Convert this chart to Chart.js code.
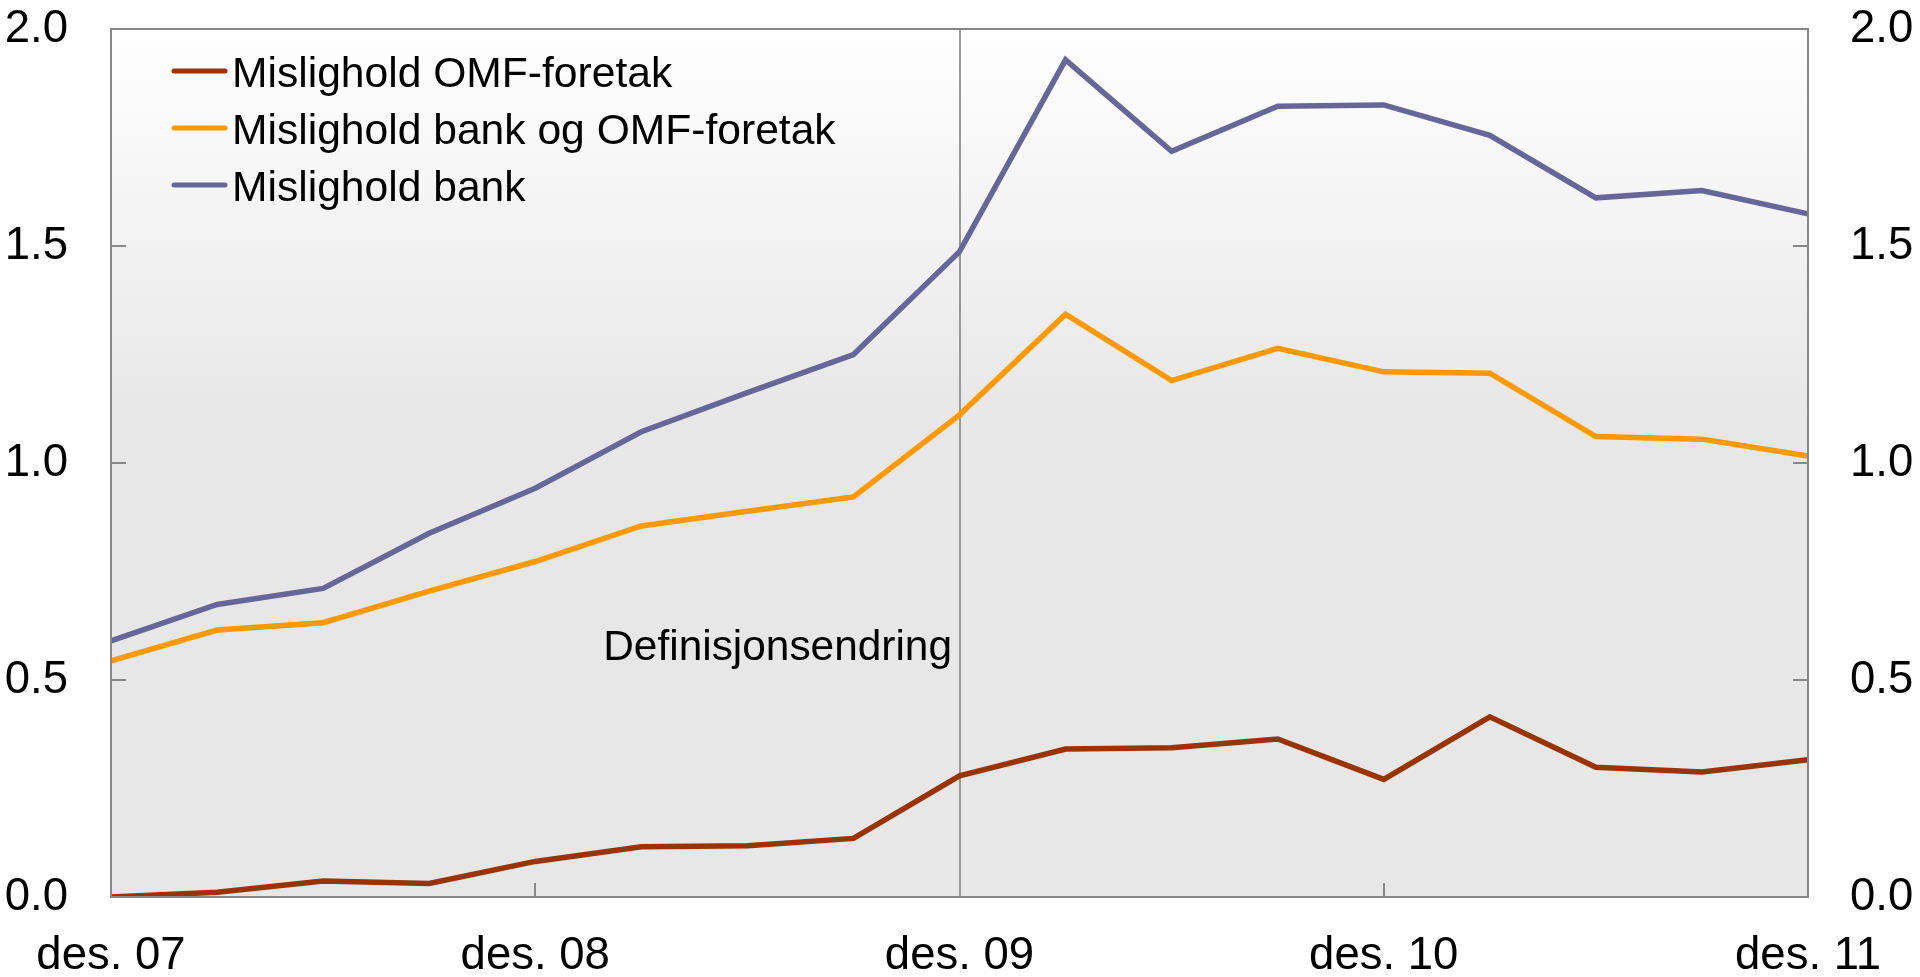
<!DOCTYPE html>
<html>
<head>
<meta charset="utf-8">
<style>
  html, body { margin: 0; padding: 0; background: #ffffff; }
  #wrap { width: 1920px; height: 977px; position: relative; }
</style>
<script src="https://cdn.jsdelivr.net/npm/chart.js@4.4.1/dist/chart.umd.min.js"></script>
</head>
<body>
<div id="wrap"><canvas id="c" width="1920" height="977"></canvas></div>
<script>
// Quarterly observations, des. 07 to des. 11
const categories = [
  'des. 07','mar. 08','jun. 08','sep. 08',
  'des. 08','mar. 09','jun. 09','sep. 09',
  'des. 09','mar. 10','jun. 10','sep. 10',
  'des. 10','mar. 11','jun. 11','sep. 11',
  'des. 11'
];
const shownTickLabels = ['des. 07','des. 08','des. 09','des. 10','des. 11'];
const yTicks = [0, 0.5, 1.0, 1.5, 2.0];

const misligholdOMF = [0.00, 0.011, 0.037, 0.031, 0.082, 0.116, 0.118, 0.135, 0.279, 0.341, 0.344, 0.364, 0.271, 0.415, 0.299, 0.288, 0.316];
const misligholdBankOgOMF = [0.544, 0.615, 0.632, 0.705, 0.773, 0.855, 0.889, 0.922, 1.111, 1.343, 1.190, 1.264, 1.210, 1.207, 1.061, 1.055, 1.016];
const misligholdBank = [0.590, 0.674, 0.711, 0.838, 0.942, 1.072, 1.162, 1.250, 1.487, 1.929, 1.718, 1.822, 1.825, 1.755, 1.611, 1.628, 1.574];

const seriesNames = ['Mislighold OMF-foretak', 'Mislighold bank og OMF-foretak', 'Mislighold bank'];
const seriesColors = ['#993300', '#FF9900', '#666699'];

const markerCategory = 'des. 09';
const markerText = 'Definisjonsendring';
const markerTextValue = 0.546;

const FONT = '"Liberation Sans", Arial, Helvetica, sans-serif';
const AXIS_COLOR = '#888888';

const framePlugin = {
  id: 'framePlugin',
  beforeDraw(chart) {
    const { ctx, chartArea: a } = chart;
    const g = ctx.createLinearGradient(0, a.top, 0, a.bottom);
    g.addColorStop(0, '#ffffff');
    g.addColorStop(0.45, '#e7e7e7');
    g.addColorStop(1, '#e7e7e7');
    ctx.save();
    ctx.fillStyle = g;
    ctx.fillRect(a.left, a.top, a.right - a.left, a.bottom - a.top);
    ctx.restore();
  },
  beforeDatasetsDraw(chart) {
    const { ctx, chartArea: a, scales } = chart;
    ctx.save();
    ctx.strokeStyle = AXIS_COLOR;
    ctx.lineWidth = 2;
    yTicks.forEach(v => {
      const y = Math.round(scales.y.getPixelForValue(v));
      ctx.beginPath();
      ctx.moveTo(a.left, y); ctx.lineTo(a.left + 15, y);
      ctx.moveTo(a.right, y); ctx.lineTo(a.right - 15, y);
      ctx.stroke();
    });
    shownTickLabels.forEach(lbl => {
      const x = Math.round(scales.x.getPixelForValue(categories.indexOf(lbl)));
      ctx.beginPath();
      ctx.moveTo(x, a.bottom); ctx.lineTo(x, a.bottom - 14);
      ctx.stroke();
    });
    const mx = Math.round(scales.x.getPixelForValue(categories.indexOf(markerCategory)));
    ctx.strokeStyle = '#999999';
    ctx.beginPath();
    ctx.moveTo(mx, a.top); ctx.lineTo(mx, a.bottom);
    ctx.stroke();
    ctx.fillStyle = '#000000';
    ctx.font = '42.4px ' + FONT;
    ctx.textAlign = 'right';
    ctx.textBaseline = 'alphabetic';
    ctx.fillText(markerText, mx - 8, scales.y.getPixelForValue(markerTextValue));
    ctx.restore();
  },
  afterDraw(chart) {
    const { ctx, chartArea: a } = chart;
    ctx.save();
    ctx.strokeStyle = AXIS_COLOR;
    ctx.lineWidth = 2;
    ctx.strokeRect(a.left, a.top, a.right - a.left, a.bottom - a.top);
    ctx.font = '42.6px ' + FONT;
    ctx.textAlign = 'left';
    ctx.textBaseline = 'alphabetic';
    chart.data.datasets.forEach((ds, i) => {
      const y = 71 + i * 57;
      ctx.strokeStyle = ds.borderColor;
      ctx.lineWidth = 5;
      ctx.lineCap = 'round';
      ctx.beginPath();
      ctx.moveTo(174, y); ctx.lineTo(225, y);
      ctx.stroke();
      ctx.fillStyle = '#000000';
      ctx.fillText(ds.label, 232, y + 16);
    });
    ctx.restore();
  }
};

const datasets = [misligholdOMF, misligholdBankOgOMF, misligholdBank].map((d, i) => ({
  label: seriesNames[i],
  data: d,
  borderColor: seriesColors[i],
  backgroundColor: seriesColors[i],
  borderWidth: 5.5,
  pointRadius: 0,
  tension: 0,
  borderJoinStyle: 'miter',
  borderCapStyle: 'butt',
  yAxisID: 'y'
}));

const noPad = s => { s.paddingTop = 0; s.paddingBottom = 0; s.paddingLeft = 0; s.paddingRight = 0; };

new Chart(document.getElementById('c'), {
  type: 'line',
  data: { labels: categories, datasets: datasets },
  options: {
    responsive: false,
    animation: false,
    devicePixelRatio: 1,
    layout: { padding: { top: 29, left: 0, right: 0, bottom: 0 } },
    plugins: { legend: { display: false }, tooltip: { enabled: false } },
    scales: {
      x: {
        type: 'category',
        offset: false,
        grid: { display: false, drawTicks: false },
        border: { display: false },
        ticks: {
          autoSkip: false,
          maxRotation: 0,
          padding: 32,
          color: '#000000',
          font: { family: FONT, size: 45.5 },
          callback: function (v, i) {
            const l = categories[i];
            return shownTickLabels.includes(l) ? l : '';
          }
        },
        afterFit(s) { s.height = 80; noPad(s); }
      },
      y: {
        position: 'left',
        min: 0, max: 2,
        grid: { display: false, drawTicks: false },
        border: { display: false },
        ticks: {
          stepSize: 0.5,
          padding: 43,
          color: '#000000',
          font: { family: FONT, size: 45.5 },
          callback: v => Number(v).toFixed(1)
        },
        afterFit(s) { s.width = 111; noPad(s); }
      },
      y2: {
        position: 'right',
        min: 0, max: 2,
        grid: { display: false, drawTicks: false },
        border: { display: false },
        ticks: {
          stepSize: 0.5,
          padding: 42,
          color: '#000000',
          font: { family: FONT, size: 45.5 },
          callback: v => Number(v).toFixed(1)
        },
        afterFit(s) { s.width = 112; noPad(s); }
      }
    }
  },
  plugins: [framePlugin]
});
</script>
</body>
</html>
